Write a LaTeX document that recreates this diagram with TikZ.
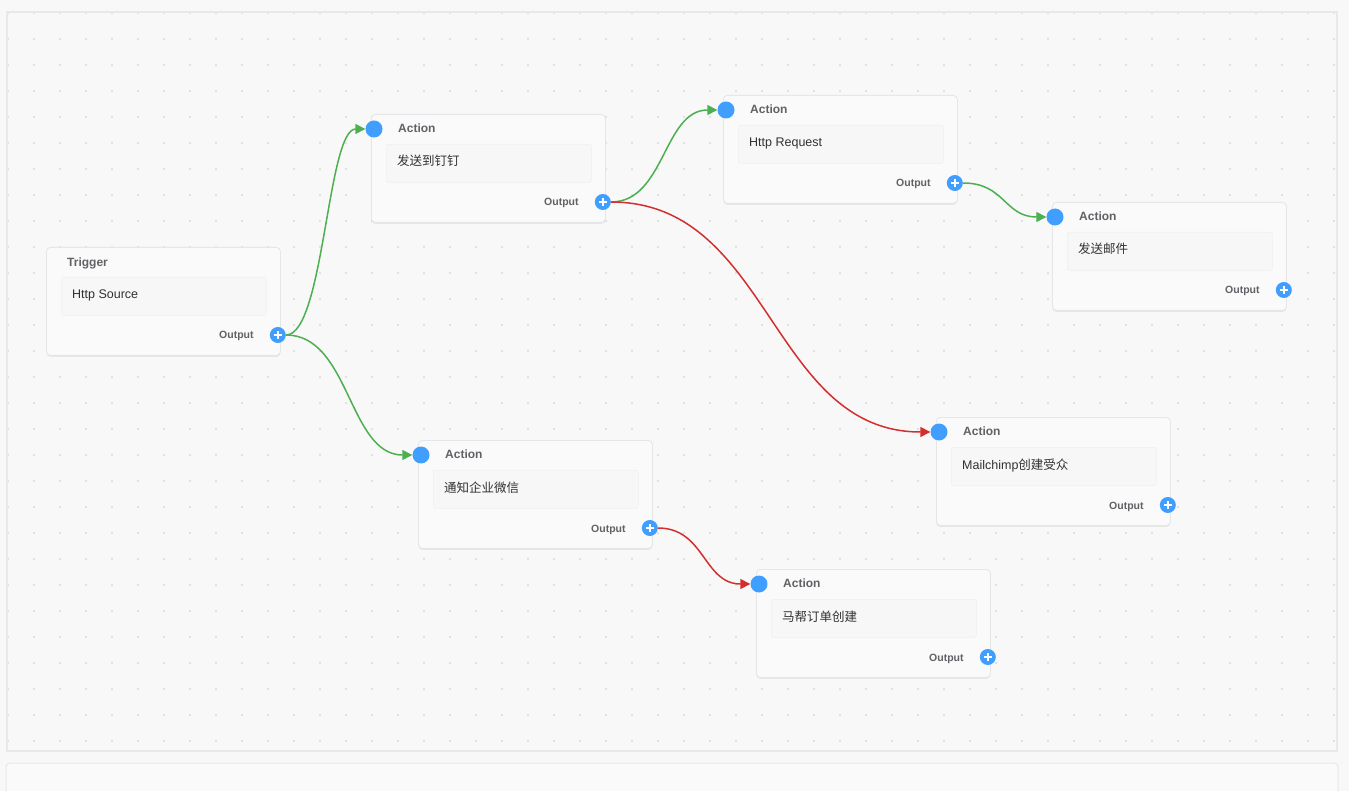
\documentclass[tikz,border=0pt]{standalone}
\usepackage{fontspec}
\setmainfont{Liberation Sans}
\newfontfamily\cjk{Noto Sans CJK SC}
\usetikzlibrary{arrows.meta,shadows}
\definecolor{bgc}{HTML}{F8F8F8}
\definecolor{framec}{HTML}{E6E8EB}
\definecolor{dotc}{HTML}{DADADA}
\definecolor{cardc}{HTML}{FAFAFA}
\definecolor{cardline}{HTML}{E4E6EA}
\definecolor{fieldc}{HTML}{F7F7F7}
\definecolor{fieldline}{HTML}{F0F0F0}
\definecolor{titlec}{HTML}{606266}
\definecolor{textc}{HTML}{303133}
\definecolor{portc}{HTML}{409EFF}
\definecolor{okc}{HTML}{4CAF50}
\definecolor{errc}{HTML}{D32F2F}
\tikzset{
  card/.style={draw=cardline, fill=cardc, rounded corners=4pt, minimum width=234pt, minimum height=108pt, inner sep=0pt, line width=0.8pt,
    drop shadow={shadow xshift=0pt, shadow yshift=-1.5pt, opacity=0.12, fill=black!60}},
  field/.style={draw=fieldline, fill=fieldc, rounded corners=2pt, minimum width=205pt, minimum height=38pt, inner sep=0pt, line width=0.6pt},
  titletext/.style={font=\bfseries\fontsize{12}{14}\selectfont, text=titlec, inner sep=0pt},
  fieldtext/.style={font=\fontsize{12.5}{14}\selectfont, text=textc, inner sep=0pt},
  outtext/.style={font=\bfseries\fontsize{10.5}{12}\selectfont, text=titlec, inner sep=0pt},
  inport/.style={circle, fill=portc, minimum size=17pt, inner sep=0pt},
  outport/.style={circle, fill=portc, minimum size=16pt, inner sep=0pt,
    path picture={\draw[white, line width=1.8pt] (path picture bounding box.center) +(-4pt,0pt) -- +(4pt,0pt)
      (path picture bounding box.center) +(0pt,-4pt) -- +(0pt,4pt);}},
  okline/.style={draw=okc, line width=1.5pt, -{Triangle[length=10pt,width=10pt]}},
  errline/.style={draw=errc, line width=1.5pt, -{Triangle[length=10pt,width=10pt]}},
}
\newcommand\flowbody[4]{% name, x, y, text
  \node[card, anchor=north west] (#1) at (#2,#3) {};
  \node[field, anchor=north west] (#1-field) at ([xshift=15pt,yshift=-30pt]#1.north west) {};
  \node[fieldtext, anchor=base west] (#1-text) at ([xshift=26pt,yshift=-52pt]#1.north west) {#4};
  \node[outtext, anchor=base east] (#1-outlabel) at ([xshift=-27pt,yshift=-92pt]#1.north east) {Output};
  \node[outport] (#1-out) at ([xshift=-3pt,yshift=-88pt]#1.north east) {};
}
\newcommand\actioncard[4]{%
  \flowbody{#1}{#2}{#3}{#4}
  \node[titletext, anchor=base west] (#1-title) at ([xshift=27pt,yshift=-18.5pt]#1.north west) {Action};
  \node[inport] (#1-in) at ([xshift=3pt,yshift=-15pt]#1.north west) {};
}
\begin{document}
\begin{tikzpicture}[x=1pt,y=-1pt]
\useasboundingbox (0,0) rectangle (1349,791);
\fill[bgc] (0,0) rectangle (1349,791);
% dot grid
\foreach \i in {0,...,51}{
  \foreach \j in {0,...,28}{
    \fill[dotc] ({8+26*\i},{13+26*\j}) circle (1.1pt);
  }
}
% canvas frame
\draw[framec, line width=1.5pt] (7,12) rectangle (1337,751);
% bottom panel
\begin{scope}
\clip (0,0) rectangle (1349,791);
\draw[framec, fill=cardc, line width=1pt, rounded corners=4pt] (6,763) rectangle (1338,810);
\end{scope}

% cards
\flowbody{trig}{46}{247}{Http Source}
\node[titletext, anchor=base west] (trig-title) at ([xshift=21pt,yshift=-19.5pt]trig.north west) {Trigger};

\actioncard{dd}{371}{114}{\cjk 发送到钉钉}
\actioncard{http}{723}{95}{Http Request}
\actioncard{mail}{1052}{202}{\cjk 发送邮件}
\actioncard{mc}{936}{417}{Mailchimp{\cjk 创建受众}}
\actioncard{wx}{418}{440}{\cjk 通知企业微信}
\actioncard{mb}{756}{569}{\cjk 马帮订单创建}

% connectors
\draw[okline] (trig-out.east) .. controls +(38,0) and +(-38,0) .. (dd-in.west);
\draw[okline] (trig-out.east) .. controls +(64,0) and +(-64,0) .. (wx-in.west);
\draw[okline] (dd-out.east) .. controls +(54,0) and +(-54,0) .. (http-in.west);
\draw[errline] (dd-out.east) .. controls +(160,0) and +(-160,0) .. (mc-in.west);
\draw[okline] (http-out.east) .. controls +(42,0) and +(-42,0) .. (mail-in.west);
\draw[errline] (wx-out.east) .. controls +(47,0) and +(-47,0) .. (mb-in.west);
\end{tikzpicture}
\end{document}
